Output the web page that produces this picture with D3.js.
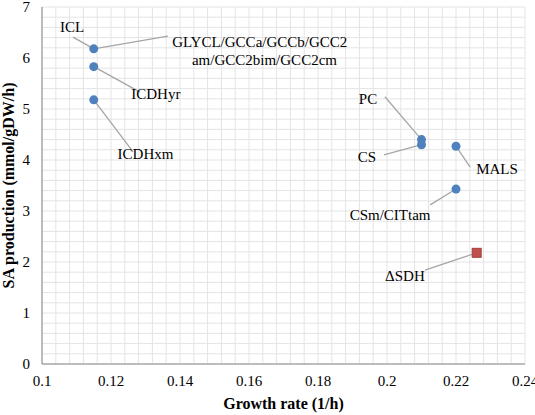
<!DOCTYPE html>
<html><head><meta charset="utf-8">
<script src="https://cdn.jsdelivr.net/npm/d3@7"></script>
<style>body{margin:0;background:#fff}</style>
</head><body>
<script>
// values
var names = ["GLYCL/GCCa/GCCb/GCC2am/GCC2bim/GCC2cm","ICDHyr","ICDHxm","PC","CS","MALS","CSm/CITtam","\u0394SDH"];
var growth = [0.115, 0.115, 0.115, 0.21, 0.21, 0.22, 0.22, 0.226];
var sa = [6.18, 5.83, 5.18, 4.40, 4.30, 4.27, 3.43, 2.18];
var xTicks = [0.1,0.12,0.14,0.16,0.18,0.2,0.22,0.24];
var yTicks = [0,1,2,3,4,5,6,7];

var W = 535, H = 415;
var svg = d3.select("body").append("svg").attr("width",W).attr("height",H)
  .attr("font-family","'Liberation Serif','DejaVu Serif',serif");
var x = d3.scaleLinear().domain([0.1,0.24]).range([42, 525]);
var y = d3.scaleLinear().domain([0,7]).range([364, 7]);

// minor grid
var g = svg.append("g");
d3.range(0.1, 0.2405, 0.004).forEach(function(v){
  g.append("line").attr("x1",x(v)).attr("x2",x(v)).attr("y1",y(0)).attr("y2",y(7)).attr("stroke","#e4e4e4");
});
d3.range(0, 7.01, 0.2).forEach(function(v){
  g.append("line").attr("y1",y(v)).attr("y2",y(v)).attr("x1",x(0.1)).attr("x2",x(0.24)).attr("stroke","#e4e4e4");
});

// axes
svg.append("line").attr("x1",x(0.1)).attr("x2",x(0.1)).attr("y1",y(0)).attr("y2",y(7)).attr("stroke","#888");
svg.append("line").attr("x1",x(0.1)).attr("x2",x(0.24)).attr("y1",y(0)).attr("y2",y(0)).attr("stroke","#888");
svg.selectAll(".xt").data(xTicks).enter().append("text")
  .attr("x",function(d){return x(d);}).attr("y",y(0)+22).attr("text-anchor","middle")
  .attr("font-size",15).text(function(d){return +d.toFixed(2);});
svg.selectAll(".yt").data(yTicks).enter().append("text")
  .attr("x",x(0.1)-12).attr("y",function(d){return y(d)+5;}).attr("text-anchor","end")
  .attr("font-size",15).text(function(d){return d;});
svg.append("text").attr("x",(x(0.1)+x(0.24))/2).attr("y",H-6).attr("text-anchor","middle")
  .attr("font-size",16).attr("font-weight","bold").text("Growth rate (1/h)");
svg.append("text").attr("transform","translate(14,"+((y(0)+y(7))/2)+") rotate(-90)")
  .attr("text-anchor","middle").attr("font-size",16).attr("font-weight","bold").text("SA production (mmol/gDW/h)");

// leader lines: [pointIndex, endX, endY, label, labelX, labelY] in data units
var leaders = [
  [0, 0.1090, 6.41, "ICL", 0.1087, 6.51],
  [0, 0.1365, 6.43, null],
  [1, 0.1284, 5.33, "ICDHyr", 0.1330, 5.20],
  [2, 0.1264, 4.16, "ICDHxm", 0.1300, 4.02],
  [3, 0.1994, 5.24, "PC", 0.1945, 5.10],
  [4, 0.1991, 4.10, "CS", 0.1942, 3.96],
  [5, 0.2241, 3.86, "MALS", 0.2319, 3.73],
  [6, 0.2125, 3.12, "CSm/CITtam", 0.2009, 2.82],
  [7, 0.2110, 1.84, "\u0394SDH", 0.2052, 1.62]
];
leaders.forEach(function(l){
  var i = l[0];
  svg.append("line").attr("x1",x(growth[i])).attr("y1",y(sa[i])).attr("x2",x(l[1])).attr("y2",y(l[2]))
    .attr("stroke","#a6a6a6").attr("stroke-width",1.3);
  if (l[3]) svg.append("text").attr("x",x(l[4])).attr("y",y(l[5])).attr("text-anchor","middle")
    .attr("font-size",15).text(l[3]);
});
var gl = svg.append("text").attr("font-size",15).attr("text-anchor","end");
gl.append("tspan").attr("x",x(0.1885)).attr("y",y(6.22)).text("GLYCL/GCCa/GCCb/GCC2");
gl.append("tspan").attr("x",x(0.1855)).attr("y",y(5.86)).text("am/GCC2bim/GCC2cm");

// points
for (var i = 0; i < 7; i++) {
  svg.append("circle").attr("cx",x(growth[i])).attr("cy",y(sa[i])).attr("r",4.5).attr("fill","#4f81bd");
}
svg.append("rect").attr("x",x(growth[7])-4.5).attr("y",y(sa[7])-4.5).attr("width",9).attr("height",9)
  .attr("fill","#c0504d").attr("stroke","#a0403d");
</script>
</body></html>
